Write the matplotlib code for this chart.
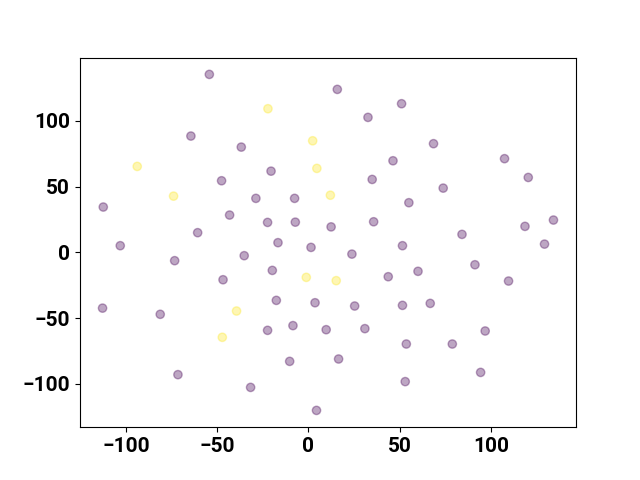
import numpy as np
import matplotlib
matplotlib.use('Agg')
import matplotlib.pyplot as plt

# embedding coordinates
purple_x = [-54.3, -64.4, -36.8, -20.5, -47.6, -28.8, -7.6, -112.4, -43.2, -22.4, -7.2, -60.7, 12.4, -103.1, -16.7, 1.4,
            15.8, 51.0, 32.6, 68.5, 107.4, 46.3, 120.4, 34.9, 73.8, 55.0, 35.7, 134.2, 118.6, 84.1, 129.3, 51.5,
            -73.3, -35.2, -46.8, -19.8, -112.8, -81.2, -17.6, 3.6, -22.4, -8.5, 9.7, -10.3, -71.5, -31.7, 4.4,
            23.8, 91.2, 43.7, 60.0, 109.6, 25.3, 51.5, 66.7, 30.9, 96.8, 53.6, 78.8, 16.5, 94.3, 53.0]
purple_y = [135.4, 88.5, 80.1, 61.8, 54.5, 41.1, 41.1, 34.5, 28.4, 22.8, 23.0, 15.0, 19.4, 5.1, 7.4, 3.8,
            124.0, 113.1, 102.7, 82.7, 71.3, 69.7, 57.0, 55.5, 48.9, 37.8, 23.3, 24.6, 19.8, 13.7, 6.3, 5.1,
            -6.3, -2.5, -20.8, -13.7, -42.4, -47.1, -36.5, -38.3, -59.3, -55.7, -58.8, -82.9, -93.0, -102.7, -120.2,
            -1.3, -9.4, -18.5, -14.4, -21.8, -40.8, -40.3, -38.8, -58.0, -59.8, -69.7, -69.7, -81.1, -91.3, -98.3]
yellow_x = [-22.2, 2.3, -93.8, 4.6, -73.9, 12.0, -1.2, -39.4, -47.2, 15.2]
yellow_y = [109.3, 84.9, 65.4, 63.9, 42.8, 43.5, -19.0, -44.6, -64.6, -21.5]

x = np.array(purple_x + yellow_x)
y = np.array(purple_y + yellow_y)
labels = np.array([0] * len(purple_x) + [1] * len(yellow_x))

plt.rcParams['font.family'] = ['Roboto', 'DejaVu Sans']

fig, ax = plt.subplots(figsize=(6.4, 4.8), dpi=100)
ax.scatter(x, y, c=labels, cmap='viridis', alpha=0.35)
ax.tick_params(labelsize=15)
for lbl in ax.get_xticklabels() + ax.get_yticklabels():
    lbl.set_fontweight('bold')

plt.savefig('out.png')
